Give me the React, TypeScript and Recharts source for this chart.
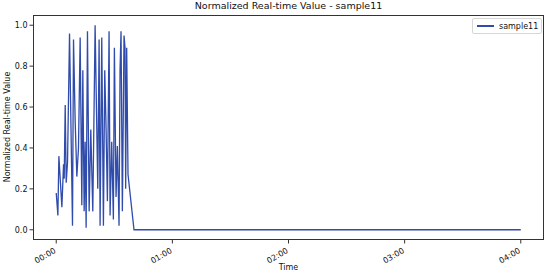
import React from 'react';
import { LineChart, Line, XAxis, YAxis } from 'recharts';

// minutes since 00:00
const minutes = [
  0.0, 0.86, 1.37, 2.92, 3.78, 4.12, 4.64, 5.15, 5.84, 6.87, 8.41, 8.93, 9.79,
  10.65, 11.5, 12.36, 13.22, 13.74, 14.42, 14.94, 15.45, 16.14, 17.0, 17.86,
  18.89, 20.09, 21.46, 22.15, 22.66, 23.52, 24.38, 25.07, 25.76, 26.44, 27.3,
  27.82, 28.67, 29.53, 30.05, 30.91, 31.59, 32.45, 32.97, 33.48, 34.17, 35.03,
  35.54, 35.88, 36.4, 37.09, 40.18, 60, 120, 180, 240,
];

const sample11 = [
  0.18, 0.07, 0.36, 0.11, 0.32, 0.25, 0.61, 0.23, 0.33, 0.96, 0.02, 0.93, 0.53,
  0.26, 0.4, 0.94, 0.12, 0.78, 0.09, 0.43, 0.01, 0.97, 0.09, 0.49, 0.09, 1.0,
  0.2, 0.93, 0.02, 0.94, 0.02, 0.78, 0.49, 0.14, 0.97, 0.07, 0.43, 0.05, 0.89,
  0.16, 0.41, 0.02, 0.78, 0.97, 0.09, 0.95, 0.89, 0.2, 0.89, 0.27, 0.0, 0.0,
  0.0, 0.0, 0.0,
];

const xTicks = [0, 60, 120, 180, 240];
const yTicks = [0, 0.2, 0.4, 0.6, 0.8, 1.0];

const data = minutes.map((t, i) => ({ t, value: sample11[i] }));

const LINE_COLOR = '#2f4bab';
const FONT = 'DejaVu Sans, sans-serif';

const fmtTime = (m: number) => {
  const h = Math.floor(m / 60);
  const mm = Math.round(m % 60);
  return `${String(h).padStart(2, '0')}:${String(mm).padStart(2, '0')}`;
};

const XTick = (props: any) => {
  const { x, y, payload } = props;
  const ax = x - 1;
  const ay = y + 4.5;
  return (
    <text
      x={ax}
      y={ay}
      transform={`rotate(-30, ${ax}, ${ay})`}
      textAnchor="end"
      dominantBaseline="middle"
      fontSize={8}
      fontFamily={FONT}
      fill="#111"
    >
      {fmtTime(payload.value)}
    </text>
  );
};

export default function App() {
  return (
    <div style={{ position: 'absolute', left: 0, top: 0, width: 550, height: 277, background: '#fff' }}>
      <LineChart width={550} height={277} data={data} margin={{ top: 15, right: 6, left: 0, bottom: 0 }}>
        <XAxis
          dataKey="t"
          type="number"
          domain={[-12, 252]}
          ticks={xTicks}
          allowDataOverflow
          axisLine={false}
          tickLine={{ stroke: '#333' }}
          tickSize={3.5}
          height={37}
          tick={<XTick />}
          interval={0}
        />
        <YAxis
          type="number"
          domain={[-0.05, 1.05]}
          ticks={yTicks}
          allowDataOverflow
          axisLine={false}
          tickLine={{ stroke: '#333' }}
          tickSize={3.5}
          width={33}
          tickFormatter={(v: number) => v.toFixed(1)}
          tick={{ fontSize: 8, fontFamily: FONT, fill: '#111' }}
        />
        <Line
          type="linear"
          dataKey="value"
          name="sample11"
          stroke={LINE_COLOR}
          strokeWidth={1.3}
          dot={false}
          isAnimationActive={false}
        />
      </LineChart>
      {/* frame */}
      <div
        style={{
          position: 'absolute',
          left: 33,
          top: 15,
          width: 511,
          height: 225,
          border: '1px solid #333',
          boxSizing: 'border-box',
          pointerEvents: 'none',
        }}
      />
      {/* legend */}
      <div
        style={{
          position: 'absolute',
          left: 472,
          top: 18,
          border: '1px solid #d6d6d6',
          borderRadius: 2,
          background: '#fff',
          width: 70,
          height: 16,
          boxSizing: 'border-box',
          display: 'flex',
          alignItems: 'center',
          fontFamily: FONT,
          fontSize: 8,
          color: '#111',
        }}
      >
        <div style={{ width: 17, height: 1.5, background: LINE_COLOR, marginLeft: 4, marginRight: 5 }} />
        <span>sample11</span>
      </div>
      <div
        style={{
          position: 'absolute',
          left: 33,
          width: 511,
          top: 0,
          textAlign: 'center',
          fontFamily: FONT,
          fontSize: 9.5,
          color: '#111',
        }}
      >
        Normalized Real-time Value - sample11
      </div>
      <div
        style={{
          position: 'absolute',
          left: 33,
          width: 511,
          top: 263,
          textAlign: 'center',
          fontFamily: FONT,
          fontSize: 8,
          color: '#111',
        }}
      >
        Time
      </div>
      <div
        style={{
          position: 'absolute',
          left: 7,
          top: 127,
          transform: 'translate(-50%, -50%) rotate(-90deg)',
          whiteSpace: 'nowrap',
          fontFamily: FONT,
          fontSize: 8,
          color: '#111',
        }}
      >
        Normalized Real-time Value
      </div>
    </div>
  );
}
